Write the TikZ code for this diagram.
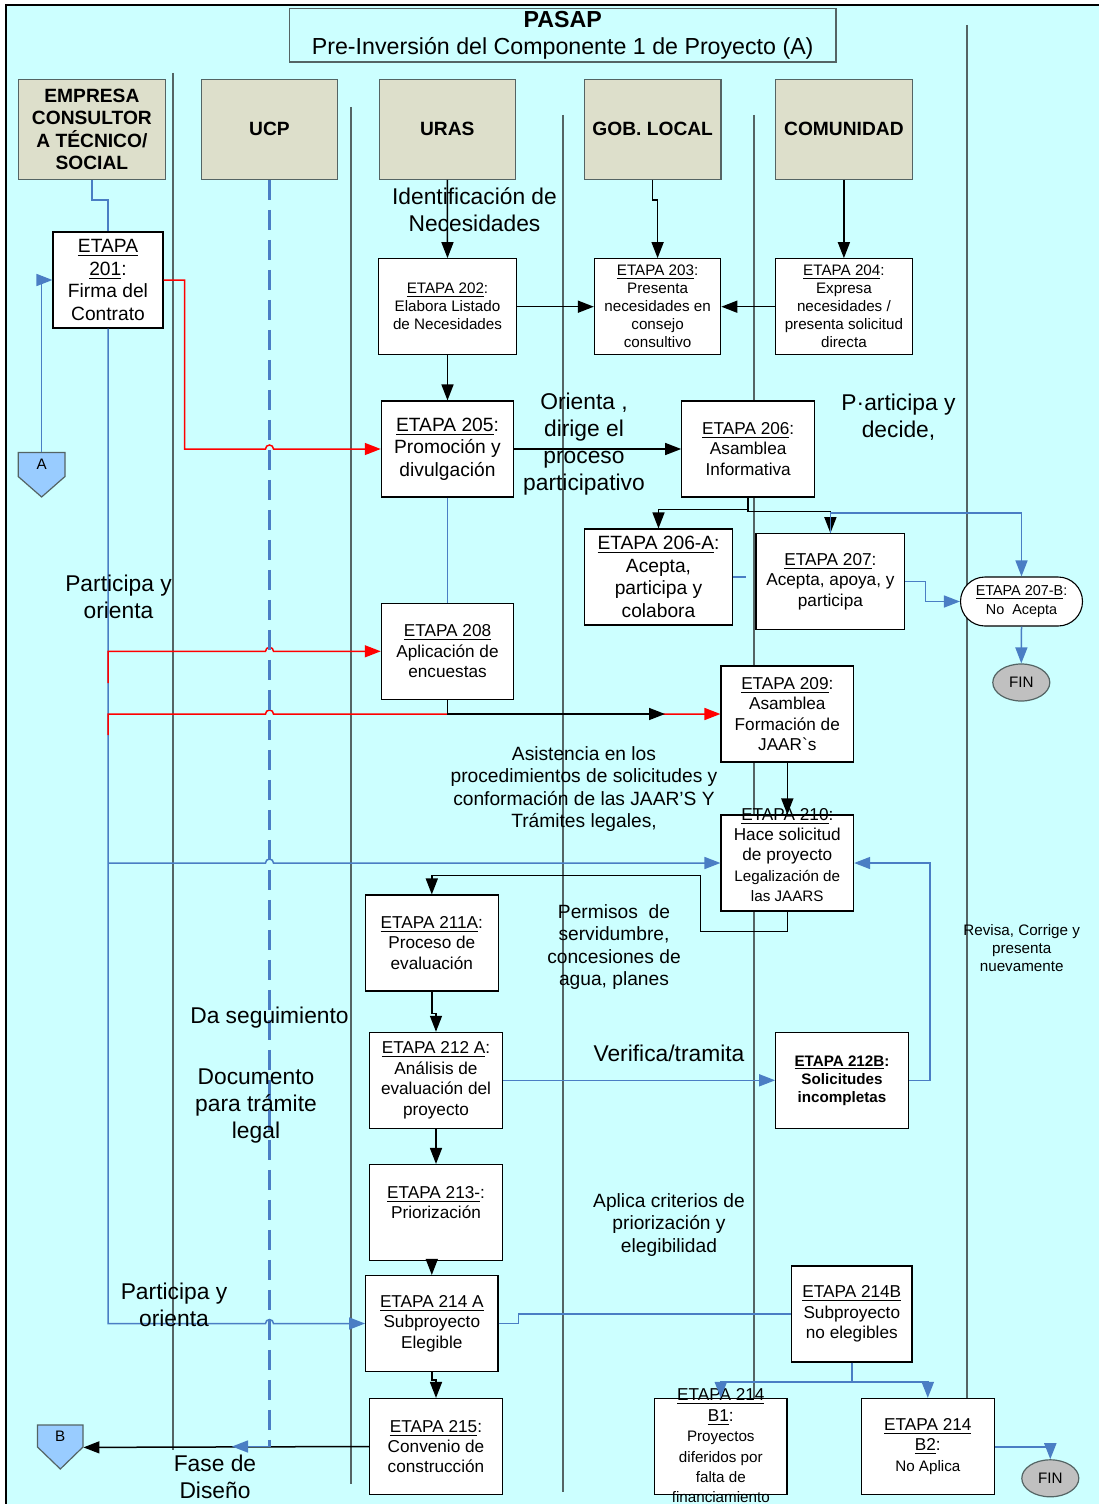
\documentclass[tikz,border=0pt]{standalone}
\usepackage{fontspec}
\setmainfont{Liberation Sans}
\usetikzlibrary{arrows.meta, shapes.geometric, shapes.misc, calc}
\definecolor{fondo}{RGB}{204,255,255}
\definecolor{cabecera}{RGB}{221,223,203}
\definecolor{carril}{RGB}{84,100,100}
\definecolor{azul}{RGB}{74,126,196}
\definecolor{conector}{RGB}{153,204,255}
\definecolor{gris}{RGB}{192,192,192}
\newcommand{\fgrande}{\fontsize{11.4}{13.5}\selectfont}
\newcommand{\fmedia}{\fontsize{9.6}{11.25}\selectfont}
\newcommand{\fetapa}{\fontsize{8.6}{10.2}\selectfont}
\newcommand{\fchica}{\fontsize{7.6}{9}\selectfont}
\tikzset{
  fl/.style={-{Triangle[length=8pt,width=6pt]}},
  negra/.style={draw=black, line width=0.75pt},
  linazul/.style={draw=azul, line width=0.75pt},
  linroja/.style={draw=red, line width=0.75pt},
  carrilln/.style={draw=carril, line width=0.75pt},
  cab/.style={draw=carril, fill=cabecera, line width=0.6pt, align=center, font=\fmedia\bfseries, minimum height=50pt, inner sep=1pt},
  etapa/.style={draw, fill=white, line width=0.55pt, align=center, font=\fetapa, minimum height=48pt, inner sep=1pt},
  nota/.style={align=center, font=\fgrande, inner sep=0pt},
  fin/.style={ellipse, draw=carril, fill=gris, line width=0.6pt, font=\fchica, minimum width=28.5pt, minimum height=18.5pt, inner sep=0pt},
  conec/.style={minimum width=23pt, minimum height=12pt, inner sep=0pt, font=\fchica}
}
\begin{document}
\begin{tikzpicture}[x=0.5pt, y=-0.5pt]
    \useasboundingbox (0,0) rectangle (1098,1504);
    % Fondo
    \fill[fondo] (6,5) rectangle (1110,1515);
    \draw[line width=0.8pt] (6,1515) -- (6,5) -- (1110,5);
    % Carriles
    \foreach \x/\ya/\yb in {173/73/1450, 351/107/1484, 563/115/1492, 754/115/1495, 967/25/1398}
        \draw[carrilln] (\x,\ya) -- (\x,\yb);
    % Titulo
    \node[draw=carril, fill=fondo, line width=0.6pt, minimum width=273.3pt, minimum height=26.7pt, inner sep=0pt, align=center, font=\fontsize{11.6}{13.5}\selectfont] (titulo) at (562.7,35.3) {\textbf{PASAP}\\Pre-Inversión del Componente 1 de Proyecto (A)};
    % Cabeceras
    \node[cab, minimum width=73.7pt] (emp) at (91.9,129.3) {EMPRESA\\CONSULTOR\\A TÉCNICO/\\SOCIAL};
    \node[cab, minimum width=68.2pt] (ucp) at (269.5,129.3) {UCP};
    \node[cab, minimum width=67.8pt] (uras) at (447.3,129.3) {URAS};
    \node[cab, minimum width=68.2pt] (gob) at (652.7,129.3) {GOB. LOCAL};
    \node[cab, minimum width=68.3pt] (com) at (843.9,129.3) {COMUNIDAD};
    % Conectores de pagina
    \filldraw[draw=carril, fill=conector, line width=0.6pt] (18.2,452.5) -- (65,452.5) -- (65,476.5) -- (41.6,497) -- (18.2,476.5) -- cycle;
    \node[conec, minimum width=23.4pt] (conA) at (41.6,464.5) {\raisebox{-2pt}{A}};
    \filldraw[draw=carril, fill=conector, line width=0.6pt] (37.5,1425) -- (83,1425) -- (83,1447) -- (60.3,1469) -- (37.5,1447) -- cycle;
    \node[conec, minimum width=22.75pt, minimum height=11pt] (conB) at (60.3,1436) {\raisebox{-2pt}{B}};
    % Etapas
    \node[etapa, minimum width=55pt, font=\fmedia] (e201) at (108,280) {\underline{ETAPA}\\\underline{201}:\\Firma del\\Contrato};
    \node[etapa, minimum width=68.7pt, font=\fchica] (e202) at (447.5,306.7) {\underline{ETAPA 202}:\\Elabora Listado\\de Necesidades};
    \node[etapa, minimum width=63.2pt, font=\fchica] (e203) at (657.6,306.7) {\underline{ETAPA 203}:\\Presenta\\necesidades en\\consejo\\consultivo};
    \node[etapa, minimum width=68.3pt, font=\fchica] (e204) at (843.9,306.7) {\underline{ETAPA 204}:\\Expresa\\necesidades /\\presenta solicitud\\directa};
    \node[etapa, minimum width=66.2pt, font=\fmedia] (e205) at (447.5,449) {\underline{ETAPA 205}:\\Promoción y\\divulgación};
    \node[etapa, minimum width=66.5pt] (e206) at (748.2,449) {\underline{ETAPA 206}:\\Asamblea\\Informativa};
    \node[etapa, minimum width=74pt, font=\fmedia] (e206a) at (658.5,577) {\underline{ETAPA 206-A}:\\Acepta,\\participa y\\colabora};
    \node[etapa, minimum width=74.4pt] (e207) at (830.4,581.7) {\underline{ETAPA 207}:\\Acepta, apoya, y\\participa};
    \node[rounded rectangle, draw, fill=white, line width=0.55pt, align=center, font=\fontsize{7.2}{9.5}\selectfont, minimum width=63pt, minimum height=24.5pt, inner sep=1pt] (e207b) at (1021.5,601.5) {\underline{ETAPA 207-B}:\\No~~Acepta};
    \node[fin] (fin1) at (1021.3,682.5) {FIN};
    \node[etapa, minimum width=66.2pt] (e208) at (447.5,651.3) {\underline{ETAPA 208}\\Aplicación de\\encuestas};
    \node[etapa, minimum width=66.3pt] (e209) at (787.3,714) {\underline{ETAPA 209}:\\Asamblea\\Formación de\\JAAR\textasciigrave s};
    \node[etapa, minimum width=66.3pt] (e210) at (787.3,863) {};
    \node[align=center, font=\fetapa, inner sep=0pt] (t210) at (787.3,855) {\underline{ETAPA 210}:\\Hace solicitud\\de proyecto\\{\fchica Legalización de}\\{\fchica las JAARS}};
    \node[etapa, minimum width=66.5pt] (e211a) at (431.8,943) {\underline{ETAPA 211A}:\\Proceso de\\evaluación};
    \node[etapa, minimum width=66.3pt] (e212a) at (436,1080.3) {\underline{ETAPA 212 A}:\\Análisis de\\evaluación del\\proyecto};
    \node[etapa, minimum width=66.3pt, font=\fchica\bfseries] (e212b) at (842,1080.3) {\underline{ETAPA 212B}:\\Solicitudes\\incompletas};
    \node[etapa, minimum width=66.5pt] (e213) at (436,1212.5) {\underline{ETAPA 213-}:\\Priorización\\\mbox{}};
    \node[etapa, minimum width=66.2pt] (e214a) at (431.8,1323.5) {\underline{ETAPA 214 A}\\Subproyecto\\Elegible};
    \node[etapa, minimum width=60.2pt] (e214b) at (851.8,1314) {\underline{ETAPA 214B}\\Subproyecto\\no elegibles};
    \node[etapa, minimum width=66.2pt] (e214b1) at (720.8,1446.5) {};
    \node[align=center, font=\fetapa, inner sep=0pt] (t214b1) at (720.8,1446) {\underline{ETAPA 214}\\\underline{B1}:\\{\fchica Proyectos}\\{\fchica diferidos por}\\{\fchica falta de}\\{\fchica financiamiento}};
    \node[etapa, minimum width=66.7pt] (e214b2) at (927.8,1446.5) {\underline{ETAPA 214}\\\underline{B2}:\\{\fchica No Aplica}};
    \node[fin] (fin2) at (1050.3,1478.3) {FIN};
    \node[etapa, minimum width=66.5pt] (e215) at (436,1446.5) {\underline{ETAPA 215}:\\Convenio de\\construcción};
    % Puntos sueltos
    \coordinate (stub) at (746,577);
    \coordinate (m209) at (665,714);
    \coordinate (fasept) at (232,1446.5);
    % Flujo azul de la empresa
    \draw[linazul] (emp.south) -- ++(0,20) -| (e201.north);
    \draw[linazul, fl] (conA.north) |- (e201.west);
    \draw[linazul, fl] (e201.south) -- (e201.south |- e214a.west) -- ($(ucp.south |- e214a.west)+(-4,0)$) arc (180:0:2pt) -- (e214a.west);
    \draw[linazul, fl] (e201.south |- e210.west) -- ($(ucp.south |- e210.west)+(-4,0)$) arc (180:0:2pt) -- (e210.west);
    % Flujo rojo
    \draw[linroja, fl] (e201.east) -- ++(21,0) |- ($(ucp.south |- e205.west)+(-4,0)$) arc (180:0:2pt) -- (e205.west);
    \draw[linroja, fl] (e201.south |- 0,683) -- (e201.south |- e208.west) -- ($(ucp.south |- e208.west)+(-4,0)$) arc (180:0:2pt) -- (e208.west);
    \draw[linroja, fl] (e201.south |- 0,735) -- (e201.south |- e209.west) -- ($(ucp.south |- e209.west)+(-4,0)$) arc (180:0:2pt) -- (e209.west);
    % Flujo negro
    \draw[negra, fl] (uras.south) -- (e202.north);
    \draw[negra, fl] (gob.south) -- ++(0,20) -| (e203.north);
    \draw[negra, fl] (com.south) -- (e204.north);
    \draw[negra, fl] (e202.east) -- (e203.west);
    \draw[negra, fl] (e204.west) -- (e203.east);
    \draw[negra, fl] (e202.south) -- (e205.north);
    \draw[negra, fl] (e205.east) -- (e206.west);
    \draw[negra, fl] (e206.south) -- ++(0,12) -| (e206a.north);
    \draw[negra, fl] (e206.south) -- ++(0,14) -| (e207.north);
    \draw[negra, fl] (e208.south) |- (m209);
    \draw[negra, fl] (e209.south) -- (e210.north);
    \draw[negra, fl] (e210.south) -- ++(0,20) -- ++(-87,0) -- ++(0,-56) -| (e211a.north);
    \draw[negra, fl] (e211a.south) -- ++(0,22) -| (e212a.north);
    \draw[negra, fl] (e212a.south) -- (e213.north);
    \draw[negra, fl] (e214a.north |- e213.south) -- (e214a.north);
    \draw[negra, fl] (e214a.south) -- ++(0,8) -| (e215.north);
    \draw[negra, fl] (e215.west) -- (conB.south east);
    % Flujo azul
    \draw[linazul, fl] (e207.north) -- ++(0,-20) -| (e207b.north);
    \draw[linazul, fl] (e207.east) -- ++(20,0) |- (e207b.west);
    \draw[linazul, fl] (e207b.south) -- (fin1.north);
    \draw[linazul] (e206a.east) -- (stub);
    \draw[linazul] (e205.south) -- (e208.north);
    \draw[linazul, fl] (e212a.east) -- (e212b.west);
    \draw[linazul, fl] (e212b.east) -- ++(21,0) |- (e210.east);
    \draw[linazul] (e214a.east) -- ++(20,0) |- (e214b.west);
    \draw[linazul, line width=1pt, fl] (e214b.south) -- ++(0,19) -| (e214b1.north);
    \draw[linazul, line width=1pt, fl] (e214b.south) -- ++(0,19) -| (e214b2.north);
    \draw[linazul, line width=1pt, fl] (e214b2.east) -| (fin2.north);
    % UCP
    \draw[azul, line width=1.5pt, dash pattern=on 10pt off 5pt] (ucp.south) -- (ucp.south |- e215.west);
    \draw[linazul, fl] (ucp.south |- e215.west) -- (fasept);
    % Notas
    \node[nota] (tIdent) at (474.5,210) {Identificación de\\Necesidades};
    \node[nota] (tOrienta) at (584,444.5) {Orienta ,\\dirige el\\proceso\\participativo};
    \node[nota] (tDecide) at (898.5,417.5) {P·articipa y\\decide,};
    \node[nota] (tPart1) at (118.5,597) {Participa y\\orienta};
    \node[nota, font=\fmedia] (tAsist) at (584,789) {Asistencia en los\\procedimientos de solicitudes y\\conformación de las JAAR’S Y\\Trámites legales,};
    \node[nota, font=\fmedia] (tPermisos) at (614,947) {Permisos~~de\\servidumbre,\\concesiones de\\agua, planes};
    \node[nota, font=\fchica] (tRevisa) at (1021.7,948) {Revisa, Corrige y\\presenta\\nuevamente};
    \node[nota] (tSeg) at (269.5,1018) {Da seguimiento};
    \node[nota] (tDoc) at (256,1106.5) {Documento\\para trámite\\legal};
    \node[nota] (tVerif) at (669,1053) {Verifica/tramita};
    \node[nota, font=\fmedia] (tAplica) at (669,1225) {Aplica criterios de\\priorización y\\elegibilidad};
    \node[nota] (tPart2) at (174,1305) {Participa y\\orienta};
    \node[nota] (tFase) at (215,1476.5) {Fase de\\Diseño};
\end{tikzpicture}
\end{document}
